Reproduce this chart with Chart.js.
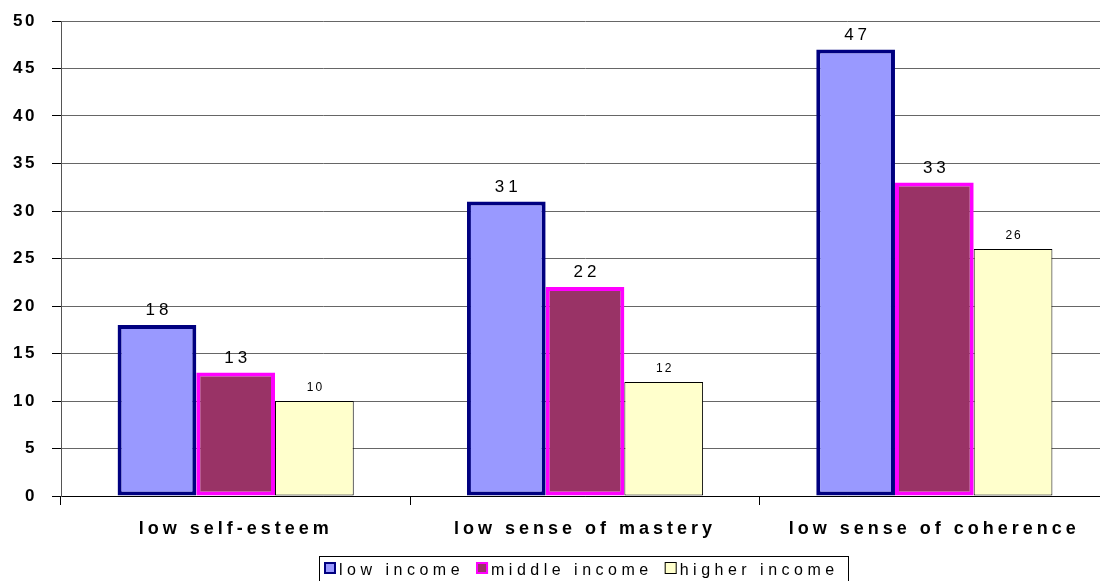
<!DOCTYPE html>
<html>
<head>
<meta charset="utf-8">
<script src="https://cdn.jsdelivr.net/npm/chart.js@4.4.1/dist/chart.umd.min.js"></script>
<style>
  html, body { margin: 0; padding: 0; background: #ffffff; overflow: hidden; }
  #wrap { width: 1110px; height: 581px; }
</style>
</head>
<body>
<div id="wrap"><canvas id="chart" width="1110" height="581"></canvas></div>
<script>
// Share of each income group reporting low psychological resources (%)
const categories = ['low self-esteem', 'low sense of mastery', 'low sense of coherence'];
const seriesNames = ['low income', 'middle income', 'higher income'];
const lowIncome = [18, 31, 47];
const middleIncome = [13, 22, 33];
const higherIncome = [10, 12, 26];
const yTicks = [0, 5, 10, 15, 20, 25, 30, 35, 40, 45, 50];

const FONT = '"Liberation Sans", Arial, Helvetica, sans-serif';

const styles = [
  { fill: '#9999FF', border: '#000080', width: 4, labelSize: 17, labelSpacing: 4, legendBorder: 2 },
  { fill: '#993366', border: '#FF00FF', width: 4, labelSize: 17, labelSpacing: 4, legendBorder: 2 },
  { fill: '#FFFFCC', border: '#000000', width: 1, labelSize: 12, labelSpacing: 2, legendBorder: 1 }
];
const seriesValues = [lowIncome, middleIncome, higherIncome];

const datasets = seriesNames.map((name, i) => ({
  label: name,
  data: seriesValues[i],
  backgroundColor: styles[i].fill,
  borderColor: styles[i].border,
  borderWidth: styles[i].width,
  borderSkipped: false,
  categoryPercentage: 0.676,
  barPercentage: 1.0
}));

// Applies canvas letter spacing to the tick labels of each axis
const spacedTicks = {
  id: 'spacedTicks',
  beforeDraw(chart) {
    const spacing = { x: '4px', y: '2.5px' };
    Object.keys(spacing).forEach(id => {
      const scale = chart.scales[id];
      if (!scale || scale._spacedWrapped) return;
      const orig = scale.drawLabels.bind(scale);
      scale.drawLabels = function (area) {
        const ctx = this.ctx;
        ctx.save();
        ctx.letterSpacing = spacing[id];
        orig(area);
        ctx.restore();
      };
      scale._spacedWrapped = true;
    });
  }
};

// Value labels above every bar
const valueLabels = {
  id: 'valueLabels',
  afterDatasetsDraw(chart) {
    const ctx = chart.ctx;
    chart.data.datasets.forEach((ds, di) => {
      const meta = chart.getDatasetMeta(di);
      const st = styles[di];
      meta.data.forEach((bar, i) => {
        ctx.save();
        ctx.font = st.labelSize + 'px ' + FONT;
        ctx.letterSpacing = st.labelSpacing + 'px';
        ctx.fillStyle = '#000000';
        ctx.textAlign = 'center';
        ctx.textBaseline = 'alphabetic';
        ctx.fillText(String(ds.data[i]), bar.x + st.labelSpacing / 2, bar.y - 10);
        ctx.restore();
      });
    });
  }
};

// Boxed legend below the axis
const boxedLegend = {
  id: 'boxedLegend',
  afterDraw(chart) {
    const ctx = chart.ctx;
    const boxLeft = 319, boxTop = 556, boxRight = 848, boxBottom = 590;
    ctx.save();
    ctx.fillStyle = '#ffffff';
    ctx.fillRect(boxLeft, boxTop, boxRight - boxLeft, boxBottom - boxTop);
    ctx.strokeStyle = '#000000';
    ctx.lineWidth = 1;
    ctx.strokeRect(boxLeft + 0.5, boxTop + 0.5, boxRight - boxLeft, boxBottom - boxTop);
    ctx.font = '16px ' + FONT;
    ctx.letterSpacing = '4.5px';
    ctx.textBaseline = 'alphabetic';
    ctx.textAlign = 'left';
    let x = 324;
    chart.data.datasets.forEach((ds, di) => {
      const st = styles[di];
      const sq = 12, sy = 562;
      ctx.fillStyle = st.fill;
      ctx.fillRect(x, sy, sq, sq);
      ctx.strokeStyle = st.border;
      ctx.lineWidth = st.legendBorder;
      const o = st.legendBorder / 2;
      ctx.strokeRect(x + o, sy + o, sq - st.legendBorder, sq - st.legendBorder);
      ctx.fillStyle = '#000000';
      const tx = x + sq + 3;
      ctx.fillText(ds.label, tx, 575);
      x = tx + ctx.measureText(ds.label).width + 12;
    });
    ctx.restore();
  }
};

new Chart(document.getElementById('chart'), {
  type: 'bar',
  data: { labels: categories, datasets },
  options: {
    responsive: false,
    animation: false,
    devicePixelRatio: 1,
    layout: { padding: { left: 0, right: 1, top: 21, bottom: 0 } },
    plugins: {
      legend: { display: false },
      tooltip: { enabled: false }
    },
    scales: {
      x: {
        offset: true,
        grid: {
          display: true,
          offset: true,
          drawOnChartArea: false,
          drawTicks: true,
          tickLength: 9,
          color: '#000000',
          lineWidth: 1
        },
        border: { display: true, color: '#000000', width: 1 },
        ticks: {
          autoSkip: false,
          maxRotation: 0,
          minRotation: 0,
          padding: 13,
          color: '#000000',
          font: { family: FONT, size: 18, weight: 'bold' }
        },
        afterFit(scale) {
          scale.height = 85;
          scale.paddingLeft = 0;
          scale.paddingRight = 0;
        }
      },
      y: {
        min: 0,
        max: 50,
        afterBuildTicks(scale) { scale.ticks = yTicks.map(v => ({ value: v })); },
        grid: {
          color: (c) => c.tick && c.tick.value === 0 ? '#000000' : '#666666',
          lineWidth: 1,
          tickLength: 9,
          tickColor: '#000000'
        },
        border: { display: true, color: '#555555', width: 1 },
        ticks: {
          padding: 15,
          color: '#000000',
          font: { family: FONT, size: 17, weight: 'bold' }
        },
        afterFit(scale) {
          scale.width = 61;
          scale.paddingTop = 0;
          scale.paddingBottom = 0;
        }
      }
    }
  },
  plugins: [spacedTicks, valueLabels, boxedLegend]
});
</script>
</body>
</html>
